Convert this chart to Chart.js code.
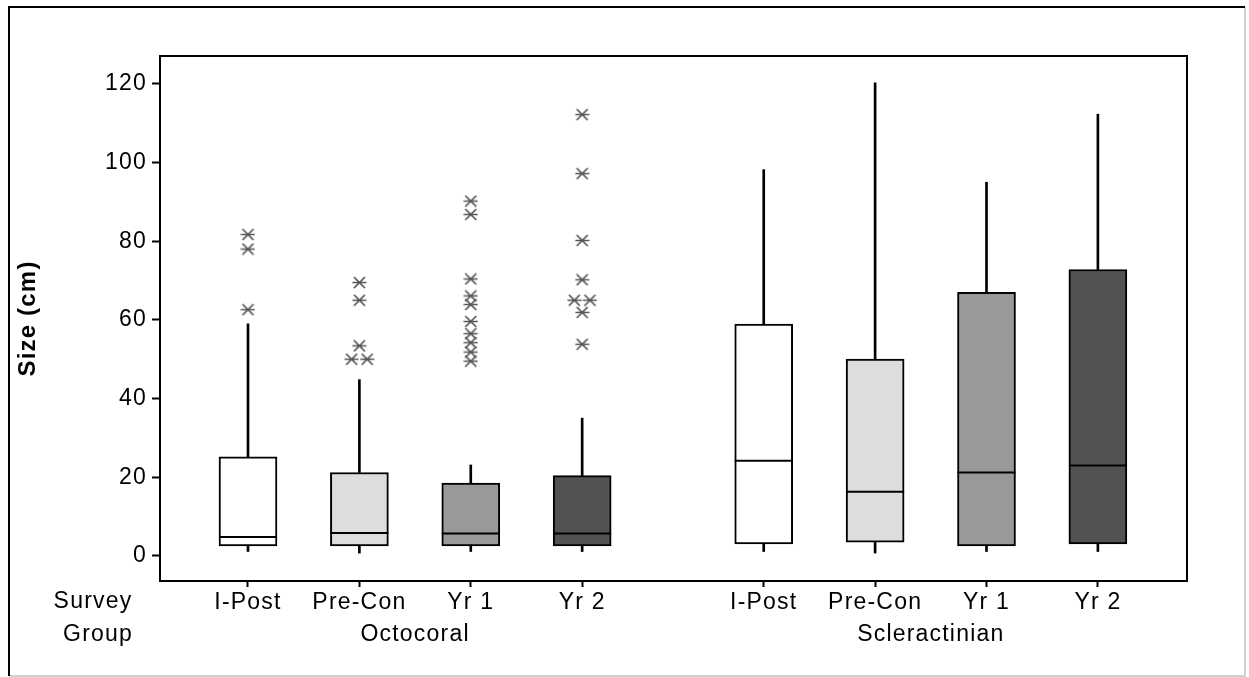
<!DOCTYPE html>
<html>
<head>
<meta charset="utf-8">
<title>Size by survey group</title>
<script src="https://cdn.jsdelivr.net/npm/chart.js@4.4.1/dist/chart.umd.min.js"></script>
<style>
  html, body { margin: 0; padding: 0; background: #fff; overflow: hidden; }
  canvas { display: block; }
</style>
</head>
<body>
<canvas id="boxchart" width="1249" height="677"></canvas>
<script>
// categories
const taxa = ['Octocoral', 'Scleractinian'];
const surveyGroups = ['I-Post', 'Pre-Con', 'Yr 1', 'Yr 2'];
const groupStart = [1, 5.63];   // axis position of first box in each taxon
const yTicks = [0, 20, 40, 60, 80, 100, 120];

// box statistics, Octocoral I-Post..Yr 2 then Scleractinian I-Post..Yr 2
const whiskerLow = [1.1, 0.7, 1.1, 1.1, 1.1, 0.7, 1.1, 1.1];
const q1 = [2.5, 2.5, 2.5, 2.5, 3.0, 3.5, 2.5, 3.0];
const median = [4.8, 5.8, 5.7, 5.7, 24.2, 16.3, 21.2, 23.0];
const q3 = [25.2, 21.2, 18.5, 20.4, 58.9, 50.0, 67.0, 72.8];
const whiskerHigh = [59, 44.8, 23.1, 35, 98.2, 120.3, 95, 112.3];
const outliers = [
  [81.7, 78, 62.6],
  [69.5, 65, 53.4, 50, 50],
  [90.2, 86.8, 70.4, 66.1, 63.9, 59.6, 56.5, 54.2, 51.8, 49.5],
  [112.2, 97.2, 80.2, 70.2, 65, 65, 61.9, 53.8],
  [], [], [], []
];

const fills = ['#ffffff', '#dddddd', '#999999', '#525252'];

const positions = [];
taxa.forEach((t, ti) => surveyGroups.forEach((g, gi) => positions.push(groupStart[ti] + gi)));

// asterisk marker for outliers
const star = document.createElement('canvas');
star.width = 15; star.height = 13;
(function () {
  const c = star.getContext('2d');
  c.strokeStyle = '#555';
  c.lineWidth = 1.7;
  c.beginPath();
  c.moveTo(0.5, 6.5); c.lineTo(14.5, 6.5);
  c.moveTo(2, 1); c.lineTo(13, 12);
  c.moveTo(13, 1); c.lineTo(2, 12);
  c.stroke();
})();

const boxData = positions.map((x, i) => ({ x: x, y: [q1[i], q3[i]] }));
const upperData = positions.map((x, i) => ({ x: x, y: [q3[i], whiskerHigh[i]] }));
const lowerData = positions.map((x, i) => ({ x: x, y: [whiskerLow[i], q1[i]] }));
const medianData = positions.map((x, i) => ({ x: x, y: median[i] }));
// tied outliers sit side by side
const outlierData = [];
outliers.forEach((vals, i) => {
  vals.forEach(v => {
    const k = vals.filter(w => w === v).length;
    const j = outlierData.filter(p => p.g === i && p.y === v).length;
    outlierData.push({ x: positions[i] + (j - (k - 1) / 2) * 0.14, y: v, g: i });
  });
});

const SPACING = '1.2px';
const FONT = '"Liberation Sans", Arial, sans-serif';

const frame = {
  id: 'frame',
  beforeUpdate(chart) { chart.ctx.letterSpacing = SPACING; },
  beforeDraw(chart) {
    const c = chart.ctx;
    c.letterSpacing = SPACING;
    c.save();
    c.fillStyle = '#fff';
    c.fillRect(0, 0, chart.width, chart.height);
    c.lineWidth = 2;
    c.strokeStyle = '#d0d0d0';
    c.beginPath();
    c.moveTo(1245, 7); c.lineTo(1245, 676); c.lineTo(9, 676);
    c.stroke();
    c.strokeStyle = '#000';
    c.beginPath();
    c.moveTo(9, 676); c.lineTo(9, 7); c.lineTo(1245, 7);
    c.stroke();
    c.restore();
  },
  afterDraw(chart) {
    const c = chart.ctx, a = chart.chartArea, xs = chart.scales.x;
    c.save();
    c.strokeStyle = '#000';
    c.lineWidth = 2;
    c.strokeRect(a.left, a.top, a.right - a.left, a.bottom - a.top);
    c.fillStyle = '#000';
    c.font = '23px ' + FONT;
    c.textAlign = 'center';
    c.textBaseline = 'middle';
    c.fillText('Survey', 93, 602);
    c.fillText('Group', 98, 635);
    taxa.forEach((t, ti) => {
      const mid = groupStart[ti] + (surveyGroups.length - 1) / 2;
      c.fillText(t, xs.getPixelForValue(mid), 635);
    });
    c.restore();
  }
};

new Chart(document.getElementById('boxchart').getContext('2d'), {
  type: 'bar',
  data: {
    datasets: [
      {
        type: 'scatter', label: 'median', data: medianData, order: 0,
        pointStyle: 'line', pointRadius: 29, pointBorderWidth: 2,
        pointBorderColor: '#000', pointBackgroundColor: '#000'
      },
      {
        type: 'scatter', label: 'outliers', data: outlierData, order: 0,
        pointStyle: star, pointRadius: 7
      },
      {
        label: 'box', data: boxData, order: 1, grouped: false,
        barThickness: 58, borderSkipped: false,
        backgroundColor: positions.map((p, i) => fills[i % fills.length]),
        borderColor: '#000', borderWidth: 2
      },
      {
        label: 'upper whisker', data: upperData, order: 2, grouped: false,
        barThickness: 2, backgroundColor: '#000', borderWidth: 0
      },
      {
        label: 'lower whisker', data: lowerData, order: 2, grouped: false,
        barThickness: 2, backgroundColor: '#000', borderWidth: 0
      }
    ]
  },
  options: {
    responsive: false,
    animation: false,
    events: [],
    layout: { padding: { left: 0, top: 56, right: 62, bottom: 0 } },
    plugins: { legend: { display: false }, tooltip: { enabled: false } },
    scales: {
      x: {
        type: 'linear', min: 0.21, max: 9.43, offset: false,
        grid: { offset: false, drawOnChartArea: false, drawTicks: true, tickLength: 6, tickWidth: 2, tickColor: '#000' },
        border: { display: true, color: '#000', width: 2 },
        afterBuildTicks: s => { s.ticks = positions.map(v => ({ value: v })); },
        afterFit: s => { s.height = 96; },
        ticks: {
          color: '#000', padding: 2, maxRotation: 0, autoSkip: false,
          font: { family: FONT, size: 23 },
          callback: (v, i) => surveyGroups[i % surveyGroups.length]
        }
      },
      y: {
        type: 'linear', min: -6.4, max: 127.1,
        grid: { drawOnChartArea: false, drawTicks: true, tickLength: 8, tickWidth: 2, tickColor: '#000' },
        border: { display: true, color: '#000', width: 2 },
        afterBuildTicks: s => { s.ticks = yTicks.map(v => ({ value: v })); },
        afterFit: s => { s.width = 160; },
        title: {
          display: true, text: 'Size (cm)', color: '#000',
          padding: { top: 14, bottom: 0 },
          font: { family: FONT, size: 24, weight: 'bold' }
        },
        ticks: {
          color: '#000', padding: 5,
          font: { family: FONT, size: 23 }
        }
      }
    }
  },
  plugins: [frame]
});
</script>
</body>
</html>
